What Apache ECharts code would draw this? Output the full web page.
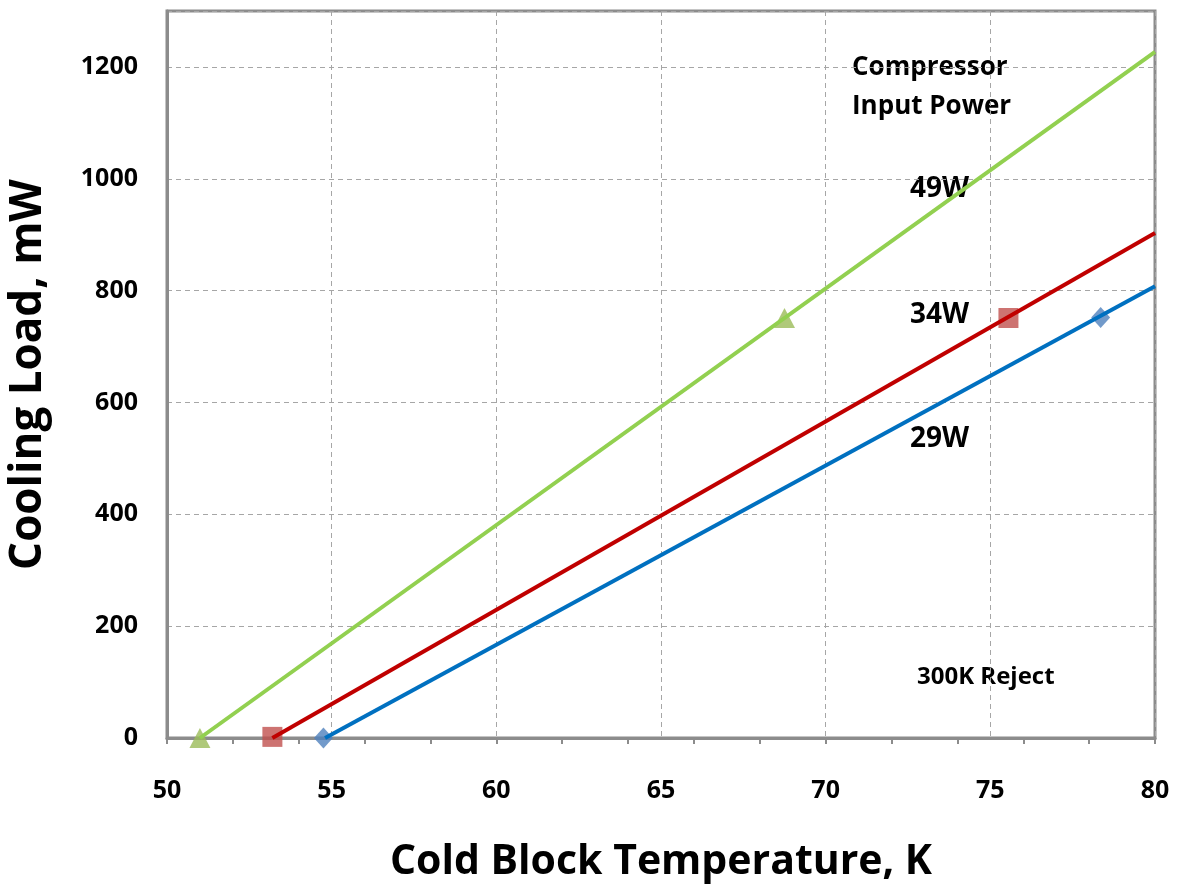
<!DOCTYPE html>
<html>
<head>
<meta charset="utf-8">
<script src="https://cdn.jsdelivr.net/npm/echarts@6/dist/echarts.min.js"></script>
<style>
  html, body { margin: 0; padding: 0; background: #fff; }
  #chart { width: 1183px; height: 884px; }
</style>
</head>
<body>
<div id="chart"></div>
<script>
// fitted lines (start, end at 80 K)
let line49 = [[51.0, 0], [80, 1227]];
let line34 = [[53.2, 0], [80, 903]];
let line29 = [[54.8, 0], [80, 808]];
// measured points
let pts49 = [[51.0, 0], [68.75, 751]];
let pts34 = [[53.2, 2], [75.55, 751]];
let pts29 = [[54.75, 0], [78.35, 752]];

let labelFont = '"Open Sans", Lato, sans-serif';
let axisGray = '#8c8c8c';

let chart = echarts.init(document.getElementById('chart'));

let option = {
  animation: false,
  grid: {
    left: 167, right: 28, top: 11, bottom: 146,
    containLabel: false, outerBoundsMode: 'none',
    show: true, borderColor: axisGray, borderWidth: 3
  },
  xAxis: [
    {
      type: 'value', min: 50, max: 80, interval: 5,
      name: 'Cold Block Temperature, K',
      nameLocation: 'middle', nameGap: 104,
      nameTextStyle: { fontFamily: labelFont, fontWeight: 'bold', fontSize: 41, color: '#000' },
      axisLine: { lineStyle: { color: axisGray, width: 3 } },
      axisTick: { show: false },
      axisLabel: { fontFamily: labelFont, fontWeight: 'bold', fontSize: 25, color: '#000', margin: 40 },
      splitLine: { lineStyle: { color: '#a6a6a6', type: [5, 4], width: 1 } }
    },
    {
      // minor ticks
      type: 'value', min: 50, max: 80, interval: 2, position: 'bottom',
      axisLine: { show: false },
      axisTick: { show: true, length: 6, lineStyle: { color: axisGray, width: 2 } },
      axisLabel: { show: false },
      splitLine: { show: false }
    }
  ],
  yAxis: {
    type: 'value', min: 0, max: 1300, interval: 200,
    name: 'Cooling Load, mW',
    nameLocation: 'middle', nameGap: 117, nameRotate: 90,
    nameTextStyle: { fontFamily: labelFont, fontWeight: 'bold', fontSize: 44, color: '#000' },
    axisLine: { show: true, lineStyle: { color: axisGray, width: 3 } },
    axisTick: { show: false },
    axisLabel: {
      fontFamily: labelFont, fontWeight: 'bold', fontSize: 25, color: '#000', margin: 29,
      formatter: function (v) { return v % 200 === 0 ? v : ''; }
    },
    splitLine: { lineStyle: { color: '#a6a6a6', type: [5, 4], width: 1 } }
  },
  series: [
    // markers sit under the trend lines
    { type: 'scatter', data: pts49, symbol: 'triangle', symbolSize: [21, 20], itemStyle: { color: '#9bbb59' }, z: 2 },
    { type: 'scatter', data: pts34, symbol: 'rect', symbolSize: 20, itemStyle: { color: '#c0504d' }, z: 2 },
    { type: 'scatter', data: pts29, symbol: 'diamond', symbolSize: [19, 21], itemStyle: { color: '#4f81bd' }, z: 2 },
    { type: 'line', data: line49, symbol: 'none', lineStyle: { color: '#92d050', width: 4 }, z: 3 },
    { type: 'line', data: line34, symbol: 'none', lineStyle: { color: '#c00000', width: 4 }, z: 3 },
    { type: 'line', data: line29, symbol: 'none', lineStyle: { color: '#0070c0', width: 4 }, z: 3 }
  ],
  graphic: [
    { type: 'text', left: 852, top: 55, style: { text: 'Compressor', font: 'bold 26px ' + labelFont, fill: '#000' } },
    { type: 'text', left: 852, top: 94, style: { text: 'Input Power', font: 'bold 26px ' + labelFont, fill: '#000' } },
    { type: 'text', left: 910, top: 175, style: { text: '49W', font: 'bold 28px ' + labelFont, fill: '#000' } },
    { type: 'text', left: 910, top: 301, style: { text: '34W', font: 'bold 28px ' + labelFont, fill: '#000' } },
    { type: 'text', left: 910, top: 425, style: { text: '29W', font: 'bold 28px ' + labelFont, fill: '#000' } },
    { type: 'text', left: 917, top: 665, style: { text: '300K Reject', font: 'bold 24px ' + labelFont, fill: '#000' } }
  ]
};

chart.setOption(option);
</script>
</body>
</html>
